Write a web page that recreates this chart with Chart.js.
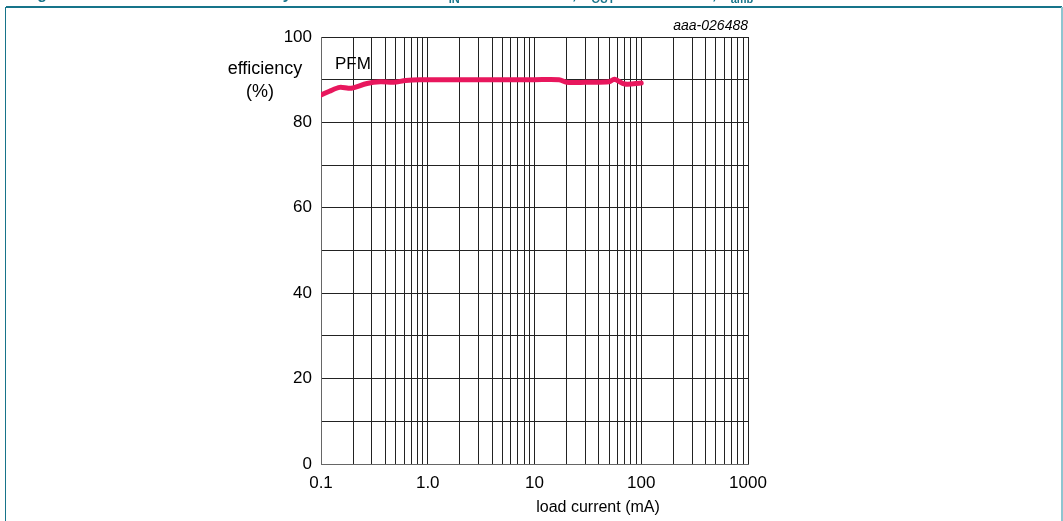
<!DOCTYPE html>
<html><head><meta charset="utf-8">
<script src="https://cdn.jsdelivr.net/npm/chart.js@4"></script>
<style>
html,body{margin:0;padding:0;background:#fff;width:1063px;height:521px;overflow:hidden;font-family:"Liberation Sans",Arial,sans-serif}
#c{position:absolute;left:0;top:0}
#topline{position:absolute;left:6px;width:1056px;top:6px;height:2px;background:#17748a}
#leftline{position:absolute;left:5px;top:7px;width:1px;height:514px;background:#17748a}
#rightline{position:absolute;left:1061px;top:7px;width:2px;height:514px;background:#8ec5d0}
.tt{position:absolute;top:-14px;font:bold 16px "Liberation Sans",Arial,sans-serif;line-height:16px;color:#17748a;white-space:nowrap}
.sb{font-size:11px;position:relative;top:4px}
</style>
</head><body>
<canvas id="c" width="1063" height="521"></canvas>
<div class="tt" style="left:23px">Figure 21.</div>
<div class="tt" style="left:216px">Efficiency as a function of</div>
<div class="tt" style="left:438px">V<span class="sb">IN</span> = 3.6 V</div>
<div class="tt" style="left:572px">, V<span class="sb">OUT</span> = 1.8 V</div>
<div class="tt" style="left:712px">, T<span class="sb">amb</span> = 25 °C</div>
<div id="topline"></div><div id="leftline"></div><div id="rightline"></div>
<script>
// Data
const loadCurrent = [0.1, 0.12, 0.15, 0.18, 0.2, 0.27, 0.36, 0.48, 0.62, 0.85, 1.2, 3, 10, 17, 20, 30, 50, 56, 70, 100];
const efficiency  = [86.4, 87.3, 88.2, 88.0, 88.1, 89.1, 89.5, 89.4, 89.8, 90.0, 90.0, 90.0, 90.0, 90.0, 89.4, 89.4, 89.5, 90.1, 89.0, 89.2];

const xLabelValues = [0.1, 1, 10, 100, 1000];
const xLabelTexts  = ['0.1', '1.0', '10', '100', '1000'];
const xGridValues  = [0.1,0.2,0.3,0.4,0.5,0.6,0.7,0.8,0.9,
                      1,2,3,4,5,6,7,8,9,
                      10,20,30,40,50,60,70,80,90,
                      100,200,300,400,500,600,700,800,900,1000];
const yLabelValues = [0, 20, 40, 60, 80, 100];

const FONT = '"Liberation Sans", Arial, sans-serif';

const textPlugin = {
  id: 'texts',
  afterDraw(chart) {
    const ctx = chart.ctx;
    const xs = chart.scales.x, ys = chart.scales.y;
    ctx.save();
    ctx.fillStyle = '#000';
    ctx.textBaseline = 'middle';
    ctx.font = '18px ' + FONT;
    ctx.textAlign = 'center';
    ctx.fillText('efficiency', 265, 69);
    ctx.fillText('(%)', 260, 92);
    ctx.font = '17px ' + FONT;
    ctx.textAlign = 'left';
    ctx.fillText('PFM', xs.getPixelForValue(0.1) + 14, ys.getPixelForValue(93.5));
    ctx.font = '16px ' + FONT;
    ctx.textAlign = 'center';
    ctx.fillText('load current (mA)', 598, 508);
    ctx.font = 'italic 14px ' + FONT;
    ctx.textAlign = 'right';
    ctx.textBaseline = 'alphabetic';
    ctx.fillText('aaa-026488', xs.right, 30);
    ctx.restore();
  }
};

new Chart(document.getElementById('c'), {
  type: 'line',
  data: {
    datasets: [{
      data: loadCurrent.map((x, i) => ({ x: x, y: efficiency[i] })),
      borderColor: '#e8175d',
      borderWidth: 5,
      pointRadius: 0,
      tension: 0.3,
      fill: false,
      borderCapStyle: 'round',
      borderJoinStyle: 'round'
    }]
  },
  options: {
    responsive: false,
    animation: false,
    layout: { padding: { left: 0, right: 315, top: 37, bottom: 0 } },
    plugins: { legend: { display: false }, tooltip: { enabled: false } },
    scales: {
      x: {
        type: 'logarithmic',
        min: 0.1, max: 1000,
        afterBuildTicks: s => { s.ticks = xGridValues.map(v => ({ value: v })); },
        afterFit: s => { s.height = 57; },
        grid: { color: '#222', lineWidth: 1, drawTicks: false },
        border: { color: '#666', width: 1 },
        ticks: {
          autoSkip: false, maxRotation: 0, minRotation: 0, padding: 9, color: '#000',
          font: { size: 17, family: FONT },
          callback: (v) => {
            const i = xLabelValues.findIndex(t => Math.abs(t - v) / t < 1e-6);
            return i >= 0 ? xLabelTexts[i] : '';
          }
        }
      },
      y: {
        min: 0, max: 100,
        afterFit: s => { s.width = 321; },
        grid: { color: '#222', lineWidth: 1, drawTicks: false },
        border: { color: '#666', width: 1 },
        ticks: {
          stepSize: 10, padding: 9, color: '#000',
          font: { size: 17, family: FONT },
          callback: v => yLabelValues.includes(v) ? String(v) : ''
        }
      }
    }
  },
  plugins: [textPlugin]
});
</script>
</body></html>
